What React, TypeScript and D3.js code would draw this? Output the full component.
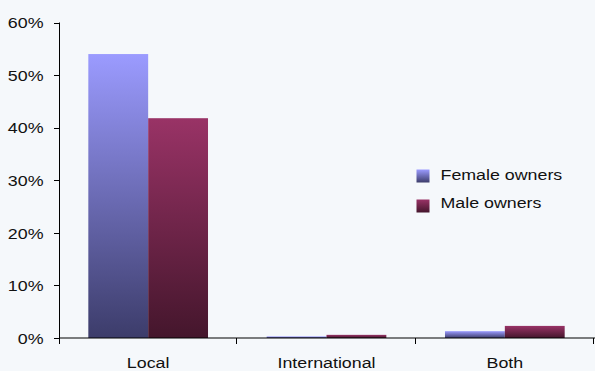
import React from "react";
import * as d3 from "d3";

const categories = ["Local", "International", "Both"];
const seriesNames = ["Female owners", "Male owners"];
const femaleValues = [0.54, 0.003, 0.013];
const maleValues = [0.418, 0.006, 0.023];
const yTicks = [0, 0.1, 0.2, 0.3, 0.4, 0.5, 0.6];

const W = 595;
const H = 371;
const margin = { left: 59, right: 1, top: 22.5, bottom: 33 };
const FONT = 15.5;
const STRETCH = 1.15;

const gradients = [
  { id: "gradFemale", top: "#9b9bff", bottom: "#3c3c6a" },
  { id: "gradMale", top: "#993366", bottom: "#44162c" },
];

// Text drawn slightly wide, anchored at (x, y)
function Label({ x, y, anchor, children }: { x: number; y: number; anchor: string; children: React.ReactNode }) {
  return (
    <text
      transform={`translate(${x},${y}) scale(${STRETCH},1)`}
      textAnchor={anchor}
      fontSize={FONT}
      fill="#111"
    >
      {children}
    </text>
  );
}

export default function App() {
  const x = d3
    .scaleBand<string>()
    .domain(categories)
    .range([margin.left, W - margin.right])
    .paddingInner(0)
    .paddingOuter(0);
  const inner = d3
    .scaleBand<string>()
    .domain(seriesNames)
    .range([0, x.bandwidth()])
    .paddingInner(0)
    .paddingOuter(0.49);
  const y = d3
    .scaleLinear()
    .domain([0, 0.6])
    .range([H - margin.bottom, margin.top]);
  const fmt = d3.format(".0%");
  const series = [femaleValues, maleValues];
  const y0 = y(0);

  return (
    <svg
      width={W}
      height={H}
      style={{ position: "absolute", left: 0, top: 0, background: "#f5f8fb" }}
      fontFamily="'Liberation Sans', Arial, sans-serif"
    >
      <defs>
        {gradients.map((g) => (
          <linearGradient key={g.id} id={g.id} x1="0" y1="0" x2="0" y2="1">
            <stop offset="0%" stopColor={g.top} />
            <stop offset="100%" stopColor={g.bottom} />
          </linearGradient>
        ))}
      </defs>
      <rect width={W} height={H} fill="#f5f8fb" />

      {/* bars */}
      {categories.map((c, ci) =>
        seriesNames.map((s, si) => {
          const v = series[si][ci];
          const top = y(v);
          return (
            <rect
              key={c + s}
              x={(x(c) as number) + (inner(s) as number)}
              y={top}
              width={inner.bandwidth()}
              height={y0 - top}
              fill={`url(#${gradients[si].id})`}
            />
          );
        })
      )}

      {/* x axis */}
      <line x1={margin.left} x2={W} y1={y0} y2={y0} stroke="#000" strokeOpacity={0.5} strokeWidth={2} />
      {categories.map((c, i) => {
        const xr = (x(c) as number) + x.bandwidth();
        return (
          <line key={"xt" + i} x1={Math.round(xr) - 0.5} x2={Math.round(xr) - 0.5} y1={y0} y2={y0 + 6} stroke="#000" />
        );
      })}
      {categories.map((c) => (
        <Label key={"xl" + c} x={(x(c) as number) + x.bandwidth() / 2} y={H - 3} anchor="middle">
          {c}
        </Label>
      ))}

      {/* y axis */}
      <line x1={margin.left + 0.5} x2={margin.left + 0.5} y1={margin.top} y2={y0 + 6} stroke="#000" />
      {yTicks.map((t) => (
        <g key={"yt" + t}>
          <line x1={margin.left - 5} x2={margin.left} y1={Math.round(y(t)) + 0.5} y2={Math.round(y(t)) + 0.5} stroke="#000" />
          <Label x={43.5} y={y(t) + 5.8} anchor="end">
            {fmt(t)}
          </Label>
        </g>
      ))}

      {/* legend */}
      {seriesNames.map((s, i) => (
        <g key={"lg" + s}>
          <rect x={416.5} y={169.5 + i * 30} width={13} height={13} fill={`url(#${gradients[i].id})`} />
          <Label x={440.5} y={180.2 + i * 28.2} anchor="start">
            {s}
          </Label>
        </g>
      ))}
    </svg>
  );
}
